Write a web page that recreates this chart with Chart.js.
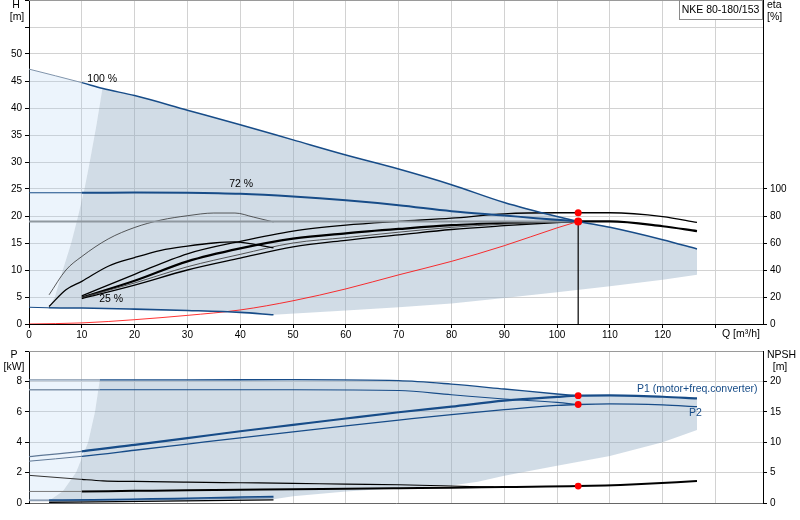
<!DOCTYPE html>
<html>
<head>
<meta charset="utf-8">
<script src="https://cdn.jsdelivr.net/npm/chart.js@4.4.0/dist/chart.umd.min.js"></script>
<style>
  body { margin: 0; background: #fff; width: 800px; height: 520px; overflow: hidden; position: relative; }
  #top { position: absolute; left: 0; top: -4px; }
  #bottom { position: absolute; left: 0; top: 345px; }
</style>
</head>
<body>
<canvas id="top" width="800" height="349"></canvas>
<canvas id="bottom" width="800" height="175"></canvas>
<script>
// ---- axis ticks
const qTicks = [0, 10, 20, 30, 40, 50, 60, 70, 80, 90, 100, 110, 120, 130];
const hTicks = [0, 5, 10, 15, 20, 25, 30, 35, 40, 45, 50, 55, 60];
const etaTicks = [0, 20, 40, 60, 80, 100];
const pTicks = [0, 2, 4, 6, 8, 10];
const npshTicks = [0, 5, 10, 15, 20];

// ---- head curves (Q m3/h, H m)
const q100 = [0, 10, 14, 20, 30, 40, 50, 60, 70, 80, 90, 100, 104, 110, 120, 126.5];
const h100 = [47.2, 44.7, 43.6, 42.3, 39.6, 36.9, 34.1, 31.3, 28.7, 25.8, 22.5, 19.9, 19.0, 17.9, 15.6, 13.9];
const q72 = [0, 10, 20, 30, 40, 50, 60, 70, 80, 90, 96, 104];
const h72 = [24.3, 24.3, 24.35, 24.3, 24.1, 23.6, 22.9, 22.0, 20.9, 20.1, 19.6, 19.0];
const q25 = [0, 3.7, 10, 20, 30, 40, 46.3];
const h25 = [3.1, 3.0, 2.95, 2.75, 2.5, 2.15, 1.7];
const qSys = [0, 10, 20, 30, 40, 50, 60, 70, 80, 90, 100, 104];
const hSys = [0, 0.2, 0.8, 1.6, 2.6, 4.3, 6.5, 9.1, 11.6, 14.5, 17.8, 19.0];

// ---- efficiency curves (%)
const qLow = [3.8, 7, 10, 15, 20, 25, 30, 35, 39, 42.5, 46.3];
const etaLowA = [21.6, 40, 50, 63, 71.5, 77, 80.2, 82.2, 82.2, 79.2, 75.6];
const etaLowB = [13, 25.4, 31.6, 42.8, 49.2, 54.6, 57.7, 60, 60.8, 59.2, 56.4];
const qEta = [10, 20, 30, 40, 50, 60, 70, 80, 90, 100, 104, 110, 120, 126.5];
const etaPump = [20.8, 36.8, 52, 61.2, 68.8, 73.2, 76, 78.4, 81.6, 82.4, 82.4, 82.4, 79.6, 75.2];
const etaTotal = [19.6, 32, 46.4, 56, 63.2, 67.2, 70.4, 73.2, 74.8, 75.8, 76, 76, 72.4, 68.8];
const qEta72 = [10, 20, 30, 40, 50, 60, 70, 80, 90, 100, 104];
const eta72a = [19.6, 30.4, 42.4, 51.6, 60, 64, 68, 71.6, 74, 75.6, 76];
const eta72b = [18.8, 28.8, 40, 48.8, 57.2, 62, 66, 70, 72.8, 75.2, 76];

// ---- operating range shading (top)
const lightTopQ = [0, 10, 13.9];
const lightTopH = [47.2, 44.7, 43.6];
const lightBotQ = [0, 3.7, 4.9, 6.4, 8, 9.3, 10.5, 11.5, 12.8, 13.9];
const lightBotH = [3.1, 3.0, 5, 10, 15, 20, 25, 30, 37, 43.6];
const darkTopQ = [3.7, 4.9, 6.4, 8, 9.3, 10.5, 11.5, 12.8, 13.9, 20, 30, 40, 50, 60, 70, 80, 90, 100, 110, 120, 126.5];
const darkTopH = [3.0, 5, 10, 15, 20, 25, 30, 37, 43.6, 42.3, 39.6, 36.9, 34.1, 31.3, 28.7, 25.8, 22.5, 19.9, 17.9, 15.6, 13.9];
const darkBotQ = [3.7, 10, 20, 30, 40, 46.3, 60, 70, 80, 90, 100, 110, 120, 126.5];
const darkBotH = [3.0, 2.95, 2.75, 2.5, 2.15, 1.7, 2.5, 3.1, 3.8, 4.8, 5.9, 7.0, 8.2, 9.1];

// ---- power curves (kW)
const qP = [0, 10, 20, 30, 40, 50, 60, 70, 80, 90, 100, 104, 110, 120, 126.5];
const p1 = [3.05, 3.4, 3.83, 4.27, 4.72, 5.14, 5.56, 5.97, 6.34, 6.73, 6.98, 7.06, 7.08, 6.99, 6.88];
const p2 = [2.75, 3.07, 3.47, 3.88, 4.29, 4.68, 5.07, 5.45, 5.82, 6.14, 6.42, 6.48, 6.52, 6.45, 6.34];
const qPmax = [0, 13.4, 30, 50, 70, 80, 90, 100, 104];
const p1max = [8.1, 8.1, 8.1, 8.12, 8.05, 7.82, 7.5, 7.17, 7.06];
const p2max = [7.45, 7.45, 7.45, 7.45, 7.4, 7.12, 6.84, 6.62, 6.48];
const q25p = [0, 3.8, 46.3];
const p1low = [0.2, 0.2, 0.42];
const p2low = [0.15, 0.15, 0.35];

// ---- NPSH curves (m)
const qNpshA = [10, 20, 30, 40, 50, 60, 70, 80, 90, 104, 115, 126.5];
const npshA = [1.9, 2.0, 2.1, 2.18, 2.25, 2.35, 2.43, 2.5, 2.63, 2.78, 3.1, 3.6];
const qNpshB = [0, 10, 14, 20, 30, 40, 50, 60, 70, 80, 88];
const npshB = [4.55, 3.88, 3.65, 3.55, 3.43, 3.33, 3.23, 3.1, 3.0, 2.8, 2.6];
const qNpshLow = [3.8, 46.3];
const npshLow = [0.12, 0.5];

// ---- operating range shading (bottom)
const pLightTopQ = [0, 13.4];
const pLightTopP = [8.1, 8.1];
const pLightBotQ = [0, 3.8, 6.4, 8.9, 11.2, 12.5, 13.4];
const pLightBotP = [0.15, 0.15, 0.77, 2.0, 4.0, 6.0, 8.1];
const pDarkTopQ = [3.8, 6.4, 8.9, 11.2, 12.5, 13.4, 30, 50, 70, 80, 90, 100, 104, 110, 120, 126.5];
const pDarkTopP = [0.15, 0.77, 2.0, 4.0, 6.0, 8.1, 8.1, 8.12, 8.05, 7.82, 7.5, 7.17, 7.06, 7.08, 6.99, 6.88];
const pDarkBotQ = [3.8, 20, 40, 46.3, 50, 60, 70, 80, 85, 90, 100, 110, 120, 126.5];
const pDarkBotP = [0.05, 0.1, 0.18, 0.25, 0.45, 0.75, 0.98, 1.15, 1.4, 1.8, 2.45, 3.1, 4.0, 4.8];

// ---- duty point
const dutyQ = 104;
const dutyH = 19.0;
const dutyEta = 82.4;
const dutyP1 = 7.06;
const dutyP2 = 6.48;
const dutyNpsh = 2.78;

const fontFamily = '"Liberation Sans", Arial, sans-serif';
const tickFont = { family: fontFamily, size: 10 };
const gridColor = '#d2d2d2';
const blue = '#174c88';
const extColor = '#8094ab';
const lightFill = 'rgba(170,205,240,0.22)';
const darkFill = 'rgba(140,168,193,0.4)';

function pts(q, v) {
  return q.map(function (x, i) { return { x: x, y: v[i] }; });
}

function curve(q, v, color, width, extra) {
  return Object.assign({
    data: pts(q, v),
    borderColor: color,
    borderWidth: width,
    pointRadius: 0,
    fill: false,
    cubicInterpolationMode: 'monotone',
    order: 1
  }, extra || {});
}

function area(q, v, fillTo, color, order) {
  return {
    data: pts(q, v),
    borderWidth: 0,
    borderColor: 'rgba(0,0,0,0)',
    backgroundColor: color,
    pointRadius: 0,
    tension: 0,
    fill: fillTo,
    order: order
  };
}

// thinner, greyer segment left of a Q limit
function ext(limit, color, width) {
  return {
    borderColor: function (c) { return c.p1.parsed.x <= limit ? color : undefined; },
    borderWidth: function (c) { return c.p1.parsed.x <= limit ? width : undefined; }
  };
}

function dots(q, v, axis, r) {
  return {
    data: [{ x: q, y: v }],
    yAxisID: axis,
    showLine: false,
    pointRadius: r,
    pointBackgroundColor: '#ff0000',
    pointBorderWidth: 0,
    order: 0
  };
}

function fixedTicks(list) {
  return function (s) { s.ticks = list.map(function (v) { return { value: v }; }); };
}

const textPlugin = {
  id: 'texts',
  afterDraw: function (chart, args, opts) {
    const ctx = chart.ctx;
    ctx.save();
    opts.items.forEach(function (t) {
      let x = t.x, y = t.y;
      if (t.q !== undefined) {
        x = chart.scales.x.getPixelForValue(t.q);
        y = chart.scales[t.axis].getPixelForValue(t.v);
      }
      ctx.font = (t.size || 10) + 'px ' + fontFamily;
      ctx.fillStyle = t.color || '#000';
      ctx.textAlign = t.align || 'left';
      ctx.textBaseline = 'middle';
      ctx.fillText(t.text, x, y);
    });
    // top frame line
    const a = chart.chartArea;
    ctx.strokeStyle = '#9a9a9a';
    ctx.lineWidth = 1;
    ctx.beginPath();
    ctx.moveTo(a.left, a.top + 0.5);
    ctx.lineTo(a.right, a.top + 0.5);
    ctx.stroke();
    if (opts.box) {
      const b = opts.box;
      ctx.fillStyle = '#fff';
      ctx.fillRect(b.x, b.y, b.w, b.h);
      ctx.strokeStyle = '#8a8a8a';
      ctx.lineWidth = 1;
      ctx.strokeRect(b.x + 0.5, b.y + 0.5, b.w, b.h);
      ctx.fillStyle = '#000';
      ctx.font = '10.5px ' + fontFamily;
      ctx.textAlign = 'center';
      ctx.fillText(b.text, b.x + b.w / 2, b.y + b.h / 2 + 1);
    }
    ctx.restore();
  }
};

function xScale(showLabels) {
  return {
    type: 'linear',
    min: 0,
    max: 139,
    afterBuildTicks: fixedTicks(qTicks),
    ticks: {
      display: showLabels,
      font: tickFont,
      color: '#000',
      padding: 1,
      maxRotation: 0,
      autoSkip: false,
      callback: function (v) { return v <= 120 ? v : ''; }
    },
    grid: { color: gridColor, tickColor: '#000', tickLength: 4, drawTicks: showLabels },
    border: { color: showLabels ? '#000' : '#666' },
    afterFit: function (s) {
      s.height = showLabels ? 21 : 17;
      s.paddingLeft = 0;
      s.paddingRight = 0;
    }
  };
}

function yScale(pos, min, max, ticks, maxLabel, grid) {
  return {
    type: 'linear',
    position: pos,
    min: min,
    max: max,
    afterBuildTicks: fixedTicks(ticks),
    ticks: {
      font: tickFont,
      color: '#000',
      padding: 3,
      autoSkip: false,
      callback: function (v) { return v <= maxLabel ? v : ''; }
    },
    grid: { color: gridColor, tickColor: '#000', tickLength: 4, drawOnChartArea: grid },
    border: { color: '#000' },
    afterFit: function (s) {
      s.width = pos === 'left' ? 29 : 37;
      s.paddingTop = 0;
      s.paddingBottom = 0;
    }
  };
}

// ---------------- top chart: H and eta (canvas shifted up 4px)
new Chart(document.getElementById('top'), {
  type: 'line',
  plugins: [textPlugin],
  data: {
    datasets: [
      area(lightTopQ, lightTopH, '+1', lightFill, 10),
      area(lightBotQ, lightBotH, false, lightFill, 10),
      area(darkTopQ, darkTopH, '+1', darkFill, 9),
      area(darkBotQ, darkBotH, false, darkFill, 9),
      curve(q100, h100, blue, 1.5, { segment: ext(13.9, extColor, 1) }),
      curve(q72, h72, blue, 2, { segment: ext(10, blue, 1) }),
      curve(q25, h25, blue, 1.6, { segment: ext(3.7, blue, 1) }),
      curve([0, dutyQ], [dutyH, dutyH], '#8f989f', 2),
      curve(qSys, hSys, 'rgba(255,0,0,0.8)', 1),
      curve([dutyQ, dutyQ], [dutyH, 0], '#000', 1.2),
      curve(qLow, etaLowA, '#333', 0.8, { yAxisID: 'eta' }),
      curve(qLow, etaLowB, '#000', 1.3, { yAxisID: 'eta' }),
      curve(qEta72, eta72a, '#444', 0.9, { yAxisID: 'eta' }),
      curve(qEta72, eta72b, '#000', 1.3, { yAxisID: 'eta' }),
      curve(qEta, etaPump, '#000', 1.3, { yAxisID: 'eta' }),
      curve(qEta, etaTotal, '#000', 2.2, { yAxisID: 'eta' }),
      dots(dutyQ, dutyH, 'y', 4),
      dots(dutyQ, dutyEta, 'eta', 3.5)
    ]
  },
  options: {
    responsive: false,
    animation: false,
    layout: { padding: { top: 0, left: 0, right: 0, bottom: 0 } },
    plugins: {
      legend: { display: false },
      tooltip: { enabled: false },
      filler: { drawTime: 'beforeDatasetsDraw' },
      texts: {
        items: [
          { text: 'H', x: 16, y: 9, align: 'center', size: 10.5 },
          { text: '[m]', x: 17, y: 21, align: 'center', size: 10.5 },
          { text: 'eta', x: 767, y: 9, size: 10.5 },
          { text: '[%]', x: 767, y: 21, size: 10.5 },
          { text: 'Q [m\u00b3/h]', x: 722, y: 338, size: 10.5 },
          { text: '100 %', q: 11.05, v: 45.4, axis: 'y', size: 10.5 },
          { text: '72 %', q: 37.9, v: 25.9, axis: 'y', size: 10.5 },
          { text: '25 %', q: 13.3, v: 4.6, axis: 'y', size: 10.5 }
        ],
        box: { x: 679, y: 4, w: 83, h: 19, text: 'NKE 80-180/153' }
      }
    },
    scales: {
      x: xScale(true),
      y: yScale('left', 0, 60, hTicks, 50, true),
      eta: yScale('right', 0, 240, etaTicks, 100, false)
    }
  }
});

// ---------------- bottom chart: P and NPSH
new Chart(document.getElementById('bottom'), {
  type: 'line',
  plugins: [textPlugin],
  data: {
    datasets: [
      area(pLightTopQ, pLightTopP, '+1', lightFill, 10),
      area(pLightBotQ, pLightBotP, false, lightFill, 10),
      area(pDarkTopQ, pDarkTopP, '+1', darkFill, 9),
      area(pDarkBotQ, pDarkBotP, false, darkFill, 9),
      curve(qPmax, p1max, blue, 1.3, { segment: ext(13.4, extColor, 1.3) }),
      curve(qPmax, p2max, blue, 1.1, { segment: ext(13.4, extColor, 1.3) }),
      curve(qP, p2, blue, 1.3, { segment: ext(10, '#5f7896', 1) }),
      curve(qP, p1, blue, 2.2, { segment: ext(10, '#5f7896', 1.2) }),
      curve(q25p, p1low, blue, 1.5, { segment: ext(3.8, extColor, 1) }),
      curve(q25p, p2low, '#5f7ea3', 1.2, { segment: ext(3.8, extColor, 1) }),
      curve([0, 10], [1.9, 1.9], '#7a7a7a', 1, { yAxisID: 'npsh' }),
      curve(qNpshA, npshA, '#000', 2, { yAxisID: 'npsh' }),
      curve(qNpshB, npshB, '#000', 1.2, { yAxisID: 'npsh', segment: ext(10, '#333', 1) }),
      curve(qNpshLow, npshLow, '#000', 1.3, { yAxisID: 'npsh' }),
      dots(dutyQ, dutyP1, 'y', 3.4),
      dots(dutyQ, dutyP2, 'y', 3.4),
      dots(dutyQ, dutyNpsh, 'npsh', 3.4)
    ]
  },
  options: {
    responsive: false,
    animation: false,
    layout: { padding: { top: 6, left: 0, right: 0, bottom: 0 } },
    plugins: {
      legend: { display: false },
      tooltip: { enabled: false },
      filler: { drawTime: 'beforeDatasetsDraw' },
      texts: {
        items: [
          { text: 'P', x: 14, y: 10.5, align: 'center', size: 10.5 },
          { text: '[kW]', x: 14, y: 22, align: 'center', size: 10.5 },
          { text: 'NPSH', x: 767, y: 10.5, size: 10.5 },
          { text: '[m]', x: 780, y: 22, align: 'center', size: 10.5 },
          { text: 'P1 (motor+freq.converter)', x: 637, y: 44.5, color: blue, size: 10.5 },
          { text: 'P2', x: 689, y: 68, color: blue, size: 10.5 }
        ]
      }
    },
    scales: {
      x: xScale(false),
      y: yScale('left', 0, 10, pTicks, 8, true),
      npsh: yScale('right', 0, 25, npshTicks, 20, false)
    }
  }
});
</script>
</body>
</html>
